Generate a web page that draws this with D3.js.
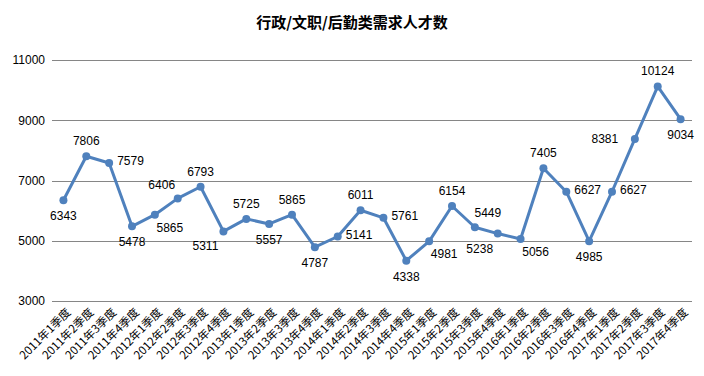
<!DOCTYPE html>
<html lang="zh">
<head>
    <meta charset="UTF-8">
    <title>行政/文职/后勤类需求人才数</title>
    <script src="https://d3js.org/d3.v7.min.js"></script>
    <style>
        body {margin:0;background:#fff}
    </style>
</head>
<body>
    <div id="chart"></div>
    <script>
        var quarters = ["2011年1季度","2011年2季度","2011年3季度","2011年4季度",
            "2012年1季度","2012年2季度","2012年3季度","2012年4季度",
            "2013年1季度","2013年2季度","2013年3季度","2013年4季度",
            "2014年1季度","2014年2季度","2014年3季度","2014年4季度",
            "2015年1季度","2015年2季度","2015年3季度","2015年4季度",
            "2016年1季度","2016年2季度","2016年3季度","2016年4季度",
            "2017年1季度","2017年2季度","2017年3季度","2017年4季度"];
        var talent = [6343, 7806, 7579, 5478, 5865, 6406, 6793, 5311,
            5725, 5557, 5865, 4787, 5141, 6011, 5761, 4338,
            4981, 6154, 5449, 5238, 5056, 7405, 6627, 4985,
            6627, 8381, 10124, 9034];
        // where each value label sits relative to its point
        var labelSide = ["b","t","r","b","br","tl","t","bl",
            "t","b","t","b","r","t","r","b",
            "br","t","tr","bl","br","t","r","b",
            "r","l","t","b"];
        var yTicks = [3000, 5000, 7000, 9000, 11000];

        var w = 704, h = 376;
        var margin = {top: 60, right: 12, bottom: 75, left: 52};

        var svg = d3.select("#chart").append("svg")
            .attr("width", w)
            .attr("height", h);

        svg.append("text")
            .attr("x", w / 2)
            .attr("y", 28)
            .attr("text-anchor", "middle")
            .attr("font-family", "Noto Sans CJK SC")
            .attr("font-weight", "bold")
            .attr("font-size", "15px")
            .text("行政/文职/后勤类需求人才数");

        var x = d3.scaleBand()
            .domain(quarters)
            .range([margin.left, w - margin.right]);

        var y = d3.scaleLinear()
            .domain([3000, 11000])
            .range([h - margin.bottom, margin.top]);

        // gridlines
        svg.append("g")
            .selectAll("line")
            .data(yTicks)
            .enter()
            .append("line")
            .attr("x1", margin.left)
            .attr("x2", w - margin.right)
            .attr("y1", d => Math.round(y(d)) + 0.5)
            .attr("y2", d => Math.round(y(d)) + 0.5)
            .attr("stroke", "#868686")
            .attr("stroke-width", 1);

        var yAxis = svg.append("g")
            .attr("transform", `translate(${margin.left},0)`)
            .call(d3.axisLeft(y).tickValues(yTicks).tickFormat(d3.format("d")).tickSize(0).tickPadding(7));
        yAxis.select(".domain").remove();
        yAxis.selectAll("text")
            .attr("font-family", "Liberation Sans")
            .attr("font-size", "12px")
            .attr("fill", "#000");

        var xAxis = svg.append("g")
            .attr("transform", `translate(0,${h - margin.bottom})`)
            .call(d3.axisBottom(x).tickSize(0).tickPadding(0));
        xAxis.select(".domain").remove();
        xAxis.selectAll("text")
            .attr("font-family", "Noto Sans CJK SC")
            .attr("font-size", "11.5px")
            .attr("fill", "#000")
            .attr("text-anchor", "end")
            .attr("dy", "0")
            .attr("transform", "translate(8,12) rotate(-45)");

        var pts = quarters.map((q, i) => ({q: q, v: talent[i], side: labelSide[i]}));

        var line = d3.line()
            .x(d => x(d.q) + x.bandwidth() / 2)
            .y(d => y(d.v));

        svg.append("path")
            .datum(pts)
            .attr("d", line)
            .attr("fill", "none")
            .attr("stroke", "#4F81BD")
            .attr("stroke-width", 3)
            .attr("stroke-linejoin", "round");

        svg.selectAll("circle")
            .data(pts)
            .enter()
            .append("circle")
            .attr("cx", d => x(d.q) + x.bandwidth() / 2)
            .attr("cy", d => y(d.v))
            .attr("r", 4)
            .attr("fill", "#4F81BD");

        var off = {
            t: [0, -11], b: [0, 20], r: [8, 2], l: [-30, 4],
            tl: [-16, -9], tr: [13, -10], bl: [-18, 19], br: [15, 17]
        };

        svg.selectAll(".lbl")
            .data(pts)
            .enter()
            .append("text")
            .attr("class", "lbl")
            .attr("x", d => x(d.q) + x.bandwidth() / 2 + off[d.side][0])
            .attr("y", d => y(d.v) + off[d.side][1])
            .attr("text-anchor", d => d.side == "r" ? "start" : "middle")
            .attr("font-family", "Liberation Sans")
            .attr("font-size", "12px")
            .attr("fill", "#000")
            .text(d => d.v);
    </script>
</body>
</html>
